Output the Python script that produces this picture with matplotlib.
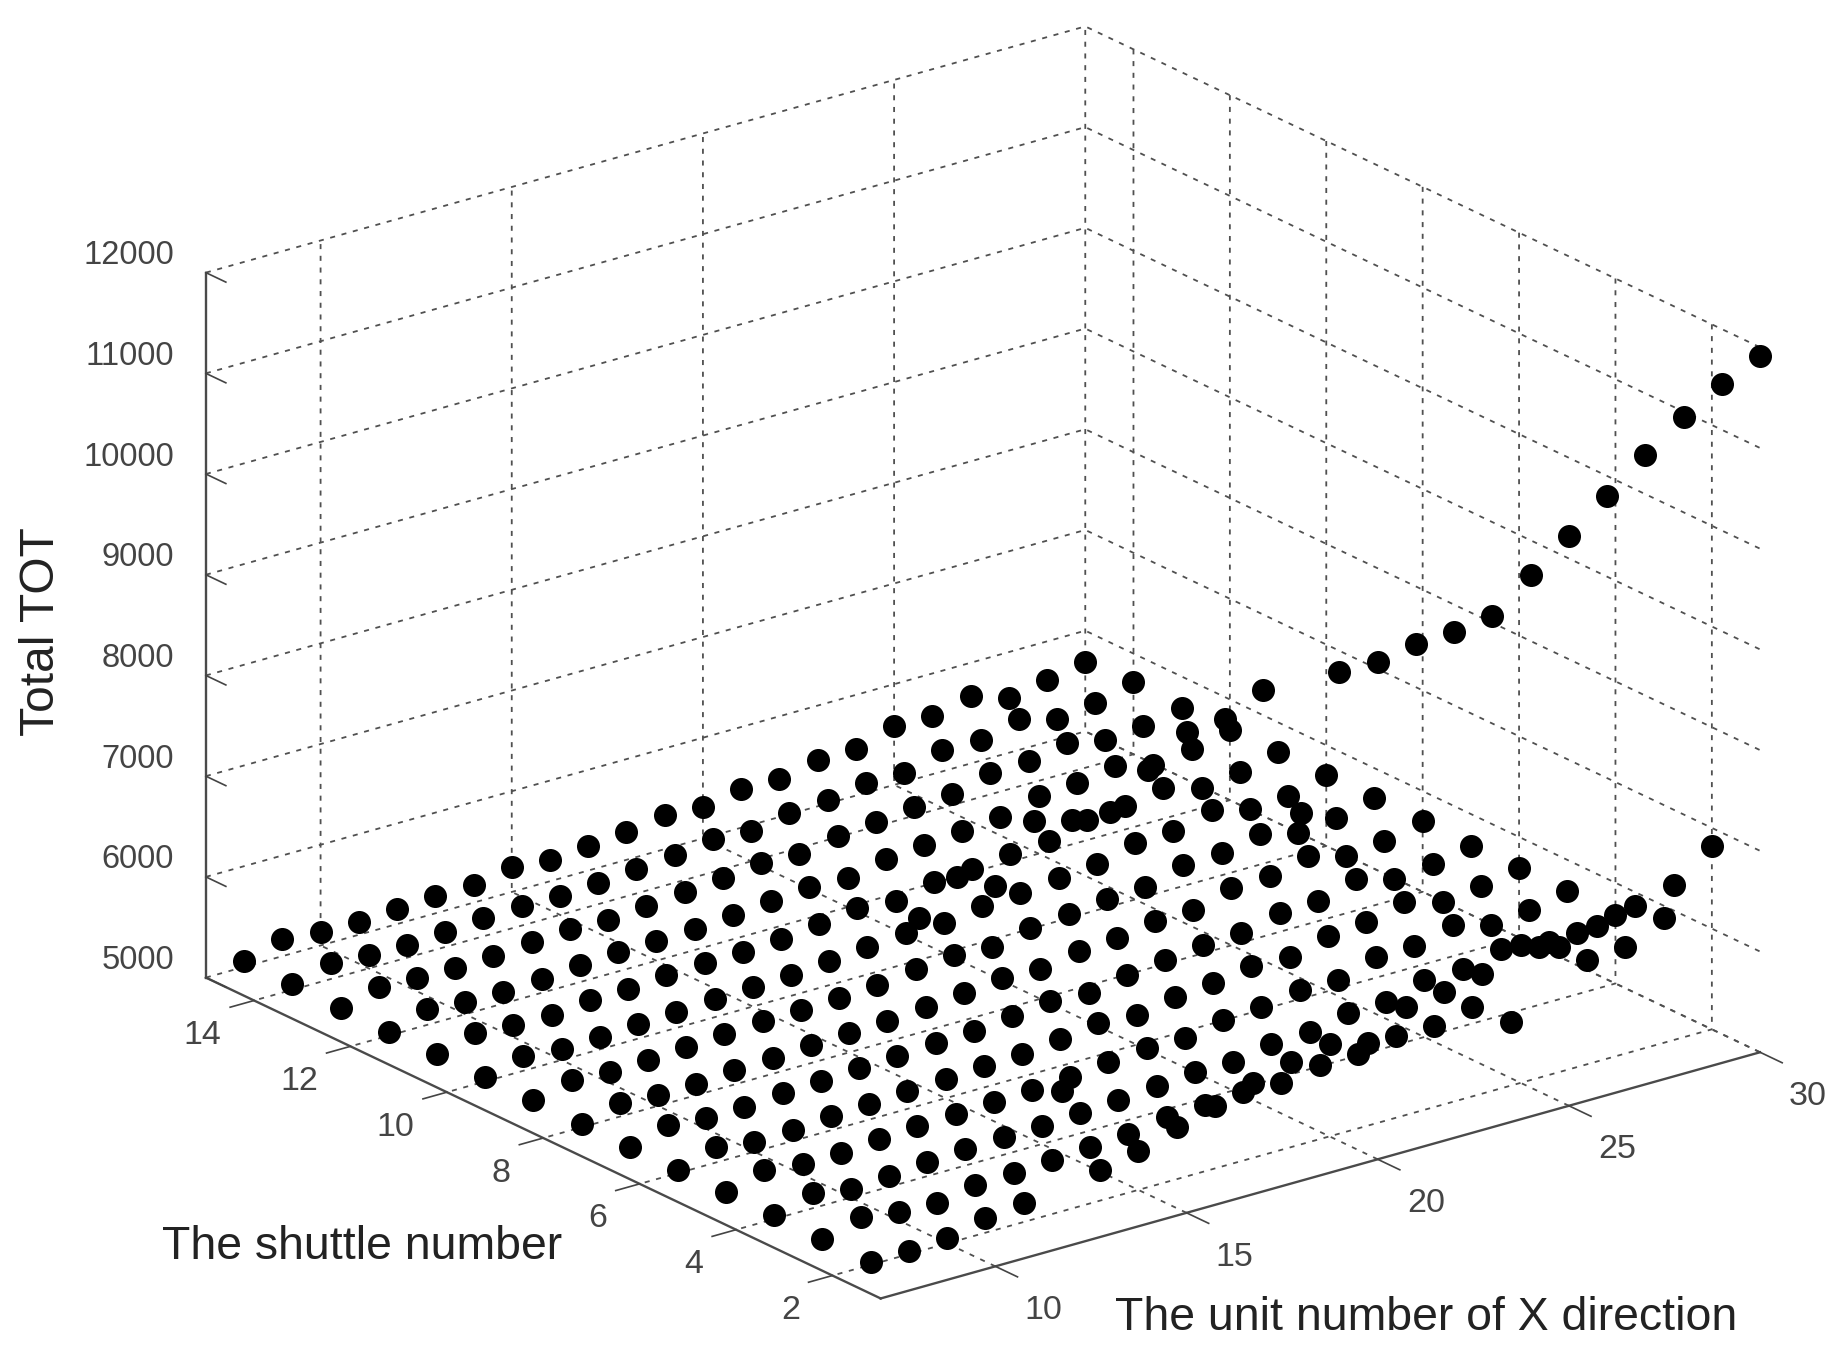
import matplotlib
matplotlib.use("Agg")
import matplotlib.pyplot as plt

plt.rcParams['font.family'] = ['Liberation Sans', 'DejaVu Sans']
plt.rcParams['grid.color'] = '#505050'
plt.rcParams['grid.linewidth'] = 1.3
plt.rcParams['grid.linestyle'] = (0, (2.8, 3.7))

units = list(range(8, 31))
x_ticks = [10, 15, 20, 25, 30]
y_ticks = [2, 4, 6, 8, 10, 12, 14]
z_ticks = [5000, 6000, 7000, 8000, 9000, 10000, 11000, 12000]

# one list per shuttle number, x = 8..30
tot_s1 = [8670, 8970, 8780, 9320, 9215, 9190, 9500, 9770, 9800, 9975, 8655, 9945, 9935, 10010, 10025, 10075, 10380, 10655, 10945, 11245, 11525, 11740, 11910]
tot_s2 = [5030, 5030, 5050, 5150, 5190, 6190, 5300, 5390, 5515, 5625, 5745, 5840, 5920, 5820, 6070, 6110, 6190, 6370, 6240, 6340, 6440, 6540, 6820]
tot_s3 = [5030, 5140, 5080, 5070, 5140, 5150, 5180, 5200, 5220, 5280, 5300, 5320, 5300, 5370, 5375, 5450, 5440, 5530, 5270, 5960, 5675, 5695, 5880]
tot_s4 = [5040, 5150, 5090, 5110, 5140, 5160, 5180, 5180, 5200, 5220, 5260, 5290, 5280, 5360, 5370, 5450, 5450, 5570, 5570, 5660, 5570, 5610, 5680]
tot_s5 = [5040, 5150, 5110, 5110, 5140, 5160, 5180, 5190, 5200, 5230, 5270, 5300, 5290, 5370, 5390, 5450, 5440, 5570, 5570, 5670, 5570, 5610, 5690]
tot_s6 = [5030, 5150, 5100, 5110, 5140, 5160, 5180, 5190, 5210, 5230, 5270, 5320, 5290, 5370, 5400, 5460, 5450, 5550, 5580, 5670, 5570, 5620, 5690]
tot_s7 = [5030, 5140, 5110, 5110, 5140, 5160, 5180, 5190, 5210, 5230, 5270, 5310, 5290, 5360, 5400, 5440, 5460, 5550, 5560, 5670, 5570, 5610, 5680]
tot_s8 = [5030, 5140, 5110, 5110, 5140, 5160, 5180, 5190, 5210, 5240, 5270, 5310, 5300, 5370, 5390, 5450, 5460, 5570, 5580, 5670, 5570, 5610, 5700]
tot_s9 = [5040, 5140, 5110, 5120, 5140, 5170, 5190, 5190, 5210, 5230, 5280, 5310, 5290, 5370, 5400, 5450, 5460, 5570, 5580, 5670, 5570, 5610, 5700]
tot_s10 = [5040, 5150, 5110, 5120, 5150, 5160, 5180, 5190, 5210, 5240, 5270, 5310, 5300, 5360, 5380, 5430, 5460, 5560, 5570, 5680, 5580, 5600, 5700]
tot_s11 = [5050, 5150, 5120, 5110, 5160, 5160, 5190, 5200, 5210, 5230, 5270, 5330, 5290, 5370, 5390, 5440, 5460, 5560, 5590, 5670, 5560, 5610, 5710]
tot_s12 = [5040, 5160, 5120, 5110, 5140, 5170, 5190, 5200, 5210, 5240, 5270, 5310, 5290, 5370, 5400, 5440, 5470, 5570, 5600, 5660, 5560, 5610, 5700]
tot_s13 = [5050, 5150, 5130, 5130, 5140, 5170, 5190, 5180, 5210, 5240, 5270, 5320, 5300, 5370, 5410, 5450, 5470, 5570, 5590, 5660, 5580, 5610, 5690]
tot_s14 = [5060, 5160, 5130, 5130, 5150, 5180, 5190, 5190, 5210, 5240, 5280, 5330, 5300, 5370, 5400, 5460, 5450, 5570, 5570, 5670, 5560, 5620, 5720]
tot_s15 = [5060, 5170, 5130, 5130, 5150, 5170, 5180, 5250, 5210, 5240, 5280, 5340, 5310, 5380, 5380, 5460, 5460, 5580, 5580, 5670, 5540, 5620, 5690]
rows = [tot_s1, tot_s2, tot_s3, tot_s4, tot_s5, tot_s6, tot_s7, tot_s8,
        tot_s9, tot_s10, tot_s11, tot_s12, tot_s13, tot_s14, tot_s15]

fig = plt.figure(figsize=(18.43, 13.55), dpi=100, facecolor='white')
# square axes, moved by hand so the box lands where it should
ax = fig.add_axes([315.4 / 1843, 25 / 1355, 1300 / 1843, 1300 / 1355], projection='3d')
ax.set_proj_type('ortho')
ax.view_init(elev=21.4, azim=-127.5)
ax.set_box_aspect((1108.5, 1108.5, 757.2), zoom=1.30)

for i, row in enumerate(rows):
    ax.scatter(units, [i + 1] * len(units), row, s=275, c='black', marker='o',
               linewidths=0, depthshade=False, clip_on=False)

ax.set_xlim(7, 30)
ax.set_ylim(1, 15)
ax.set_zlim(5000, 12000)
ax.set_xticks(x_ticks)
ax.set_yticks(y_ticks)
ax.set_zticks(z_ticks)

for axis in [ax.xaxis, ax.yaxis, ax.zaxis]:
    axis.set_pane_color((1, 1, 1, 0))
    axis.pane.set_edgecolor((1, 1, 1, 0))
    axis.line.set_color('#4a4a4a')
    axis.line.set_linewidth(1.7)
    axis._axinfo['tick']['linewidth'] = {True: 1.2, False: 1.0}
    axis._axinfo['tick']['outward_factor'] = 0
ax.xaxis._axinfo['tick']['inward_factor'] = 0.41
ax.yaxis._axinfo['tick']['inward_factor'] = 0.34
ax.zaxis._axinfo['tick']['inward_factor'] = 0.37
ax.zaxis.set_ticks_position('upper')
# z ticks run along the shuttle axis in the original
ax.zaxis._get_tickdir = lambda position: 1

ax.tick_params(axis='x', labelsize=24.5, labelcolor='#444444', color='#444444', pad=13)
ax.tick_params(axis='y', labelsize=24.5, labelcolor='#444444', color='#444444', pad=10)
ax.tick_params(axis='z', labelsize=23.5, labelcolor='#444444', color='#444444', pad=2)
for t in ax.get_xticklabels():
    t.set_ha('left')
    t.set_va('center')
for t in ax.get_yticklabels():
    t.set_ha('right')
    t.set_va('center')
for t in ax.get_zticklabels():
    t.set_ha('right')
    t.set_va('bottom')

fig.text(362 / 1843, 1 - 1247 / 1355, 'The shuttle number', fontsize=33.4, color='#222222', ha='center', va='center')
fig.text(1426 / 1843, 1 - 1318 / 1355, 'The unit number of X direction', fontsize=33.4, color='#222222', ha='center', va='center')
fig.text(42 / 1843, 1 - 632 / 1355, 'Total TOT', fontsize=34.5, color='#222222', ha='center', va='center', rotation=90)

fig.savefig('out.png', dpi=100)
